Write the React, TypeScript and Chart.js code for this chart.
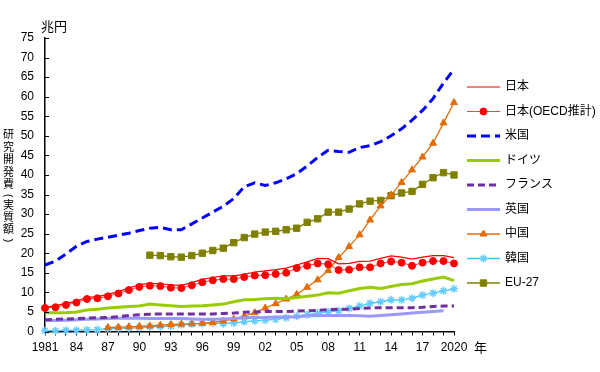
import React, { useEffect, useRef } from 'react';
import { Chart, registerables } from 'chart.js';
import { drawPoint } from 'chart.js/helpers';

Chart.register(...registerables);

const FONT = "'Liberation Sans', 'Noto Sans CJK JP', sans-serif";

const years = [
  '1981', '1982', '1983', '1984', '1985', '1986', '1987', '1988', '1989', '1990',
  '1991', '1992', '1993', '1994', '1995', '1996', '1997', '1998', '1999', '2000',
  '2001', '2002', '2003', '2004', '2005', '2006', '2007', '2008', '2009', '2010',
  '2011', '2012', '2013', '2014', '2015', '2016', '2017', '2018', '2019', '2020',
];

const tickLabels = ['1981', '84', '87', '90', '93', '96', '99', '02', '05', '08', '11', '14', '17', '2020'];

const japan = [
  6.1, 6.6, 7.2, 7.8, 8.7, 8.9, 9.5, 10.2, 11.1, 12.0,
  12.3, 12.2, 11.9, 11.8, 12.5, 13.3, 13.8, 14.2, 14.2, 14.6,
  15.2, 15.5, 15.8, 16.2, 17.0, 17.8, 18.7, 18.6, 17.3, 17.4,
  17.9, 18.0, 18.7, 19.3, 19.0, 18.5, 19.0, 19.4, 19.4, 18.9,
];

const japanOECD = [
  6.0, 6.2, 6.8, 7.4, 8.3, 8.5, 9.0, 9.7, 10.6, 11.4,
  11.7, 11.6, 11.2, 11.1, 11.8, 12.6, 13.1, 13.4, 13.4, 13.9,
  14.3, 14.4, 14.7, 15.0, 16.2, 16.8, 17.4, 17.2, 15.7, 15.8,
  16.4, 16.4, 17.4, 17.9, 17.6, 16.8, 17.6, 18.0, 18.0, 17.4,
];

const usa = [
  17.0, 18.0, 19.8, 21.8, 23.0, 23.6, 24.1, 24.6, 25.1, 25.8,
  26.4, 26.6, 26.0, 26.0, 27.5, 29.0, 30.5, 32.0, 34.0, 37.0,
  38.0, 37.3, 38.0, 39.0, 40.3, 42.3, 44.5, 46.3, 46.0, 45.8,
  47.0, 47.5, 48.5, 50.0, 51.8, 54.0, 56.5, 59.5, 63.5, 67.0,
];

const germany = [
  4.8, 4.8, 4.8, 5.0, 5.5, 5.7, 6.0, 6.2, 6.4, 6.5,
  7.0, 6.8, 6.6, 6.4, 6.5, 6.6, 6.8, 7.0, 7.6, 8.1,
  8.2, 8.4, 8.5, 8.4, 8.7, 9.0, 9.3, 9.9, 9.8, 10.4,
  11.0, 11.3, 11.0, 11.5, 12.0, 12.2, 12.9, 13.4, 13.9, 13.0,
];

const france = [
  3.0, 3.1, 3.2, 3.3, 3.4, 3.5, 3.6, 3.8, 4.1, 4.3,
  4.4, 4.5, 4.5, 4.5, 4.5, 4.5, 4.5, 4.6, 4.7, 4.9,
  5.0, 5.1, 5.1, 5.1, 5.2, 5.3, 5.4, 5.6, 5.7, 5.7,
  5.9, 6.0, 6.1, 6.1, 6.1, 6.1, 6.2, 6.4, 6.5, 6.5,
];

const uk = [
  2.8, 2.8, 2.9, 3.0, 3.1, 3.2, 3.3, 3.4, 3.4, 3.4,
  3.3, 3.3, 3.3, 3.3, 3.2, 3.1, 3.1, 3.2, 3.3, 3.5,
  3.6, 3.6, 3.7, 3.7, 3.8, 4.0, 4.1, 4.1, 4.1, 4.1,
  4.0, 3.9, 4.1, 4.3, 4.5, 4.7, 4.9, 5.1, 5.3, null,
];

const china = [
  null, null, null, null, null, null, 1.0, 1.1, 1.2, 1.3,
  1.4, 1.6, 1.8, 1.9, 2.0, 2.1, 2.3, 2.7, 3.2, 3.9,
  4.8, 6.0, 7.1, 8.3, 9.5, 11.3, 13.2, 15.6, 18.9, 21.7,
  24.7, 28.5, 32.1, 34.9, 38.1, 41.3, 44.6, 48.1, 53.3, 58.5,
];

const korea = [
  0.2, 0.2, 0.3, 0.3, 0.4, 0.5, 0.7, 0.8, 0.9, 1.0,
  1.2, 1.3, 1.4, 1.7, 1.9, 2.1, 2.2, 2.0, 2.2, 2.5,
  2.7, 2.9, 3.1, 3.5, 3.9, 4.3, 4.7, 5.0, 5.3, 5.9,
  6.5, 7.2, 7.6, 8.1, 8.1, 8.5, 9.3, 9.8, 10.4, 10.9,
];

const eu27 = [
  null, null, null, null, null, null, null, null, null, null,
  19.5, 19.4, 19.1, 19.0, 19.4, 20.0, 20.7, 21.3, 22.7, 24.0,
  24.9, 25.4, 25.6, 26.0, 26.4, 27.9, 28.8, 30.5, 30.5, 31.3,
  32.6, 33.3, 33.5, 34.7, 35.4, 35.8, 37.6, 39.3, 40.6, 40.0,
];

const seriesNames = ['日本', '日本(OECD推計)', '米国', 'ドイツ', 'フランス', '英国', '中国', '韓国', 'EU-27'];
const unitLabel = '兆円';
const yearSuffix = '年';
const yTitleChars = ['研', '究', '開', '発', '費', '(', '実', '質', '額', ')'];

const overlay = {
  id: 'overlay',
  afterDraw(chart: any) {
    const ctx = chart.ctx as CanvasRenderingContext2D;
    const area = chart.chartArea;
    const ys = chart.scales.y;
    const xs = chart.scales.x;
    ctx.save();
    // inward y ticks
    ctx.strokeStyle = '#000';
    ctx.lineWidth = 1;
    ys.ticks.forEach((t: any) => {
      const py = Math.round(ys.getPixelForValue(t.value)) + 0.5;
      ctx.beginPath();
      ctx.moveTo(area.left, py);
      ctx.lineTo(area.left + 4, py);
      ctx.stroke();
    });
    // unit label and year suffix
    ctx.fillStyle = '#000';
    ctx.font = `13px ${FONT}`;
    ctx.textAlign = 'left';
    ctx.textBaseline = 'middle';
    ctx.fillText(unitLabel, area.left - 4, area.top - 11);
    ctx.fillText(yearSuffix, xs.right + 20, area.bottom + 16.5);
    // vertical y title
    ctx.font = `11px ${FONT}`;
    ctx.textAlign = 'center';
    const positions = [135, 147.5, 160, 172.5, 185, 195.5, 205.5, 218, 230, 240.5];
    yTitleChars.forEach((c, i) => {
      const py = positions[i];
      if (c === '(' || c === ')') {
        ctx.save();
        ctx.translate(8.5, py);
        ctx.rotate(Math.PI / 2);
        ctx.fillText(c, 0, 0);
        ctx.restore();
      } else {
        ctx.fillText(c, 8.5, py);
      }
    });
    // legend
    const lx0 = 467;
    const lx1 = 500;
    chart.data.datasets.forEach((ds: any, i: number) => {
      const ry = 87 + i * 24.5;
      ctx.save();
      ctx.strokeStyle = ds.borderColor;
      ctx.lineWidth = ds.borderWidth;
      ctx.setLineDash(ds.borderDash || []);
      ctx.beginPath();
      ctx.moveTo(lx0, ry);
      ctx.lineTo(lx1, ry);
      ctx.stroke();
      ctx.restore();
      if (ds.pointRadius > 0) {
        ctx.save();
        ctx.fillStyle = ds.pointBackgroundColor;
        ctx.strokeStyle = ds.pointBorderColor;
        ctx.lineWidth = ds.pointBorderWidth;
        drawPoint(ctx, { pointStyle: ds.pointStyle, radius: ds.pointRadius, rotation: 0, borderWidth: ds.pointBorderWidth }, (lx0 + lx1) / 2, ry);
        ctx.restore();
      }
      ctx.fillStyle = '#000';
      ctx.font = `12px ${FONT}`;
      ctx.textAlign = 'left';
      ctx.textBaseline = 'middle';
      ctx.fillText(ds.label, 505, ry);
    });
    ctx.restore();
  },
};

function lineDs(label: string, data: (number | null)[], color: string, width: number, extra: any = {}) {
  return {
    label,
    data,
    borderColor: color,
    backgroundColor: color,
    borderWidth: width,
    pointRadius: 0,
    pointHoverRadius: 0,
    tension: 0,
    fill: false,
    clip: false as any,
    spanGaps: false,
    ...extra,
  };
}

export default function App() {
  const ref = useRef<HTMLCanvasElement>(null);
  useEffect(() => {
    const datasets = [
      lineDs(seriesNames[0], japan, '#ff0000', 1.2),
      lineDs(seriesNames[1], japanOECD, '#ff4040', 1, {
        pointRadius: 3.5, pointStyle: 'circle', pointBackgroundColor: '#ff0000', pointBorderColor: '#ff0000', pointBorderWidth: 1,
      }),
      lineDs(seriesNames[2], usa, '#0000ff', 3, { borderDash: [9, 5] }),
      lineDs(seriesNames[3], germany, '#99cc00', 3),
      lineDs(seriesNames[4], france, '#7030a0', 3, { borderDash: [7, 4] }),
      lineDs(seriesNames[5], uk, '#9999ff', 3),
      lineDs(seriesNames[6], china, '#e36c09', 1.3, {
        pointRadius: 4, pointStyle: 'triangle', pointBackgroundColor: '#e36c09', pointBorderColor: '#e36c09', pointBorderWidth: 1,
      }),
      lineDs(seriesNames[7], korea, '#33ccff', 1.3, {
        pointRadius: 4, pointStyle: 'star', pointBackgroundColor: '#66ccff', pointBorderColor: '#66ccff', pointBorderWidth: 1.5,
      }),
      lineDs(seriesNames[8], eu27, '#808000', 1.3, {
        pointRadius: 4.5, pointStyle: 'rect', pointBackgroundColor: '#808000', pointBorderColor: '#808000', pointBorderWidth: 1,
      }),
    ];
    const chart = new Chart(ref.current as HTMLCanvasElement, {
      type: 'line',
      data: { labels: years, datasets: datasets as any },
      options: {
        animation: false,
        responsive: false,
        devicePixelRatio: 1,
        events: [],
        layout: { padding: { top: 38, right: 146, left: 0, bottom: 0 } },
        plugins: { legend: { display: false }, tooltip: { enabled: false }, title: { display: false } },
        scales: {
          x: {
            type: 'category',
            offset: false,
            grid: { display: true, drawOnChartArea: false, drawTicks: true, tickLength: 4, color: '#000', lineWidth: 1 },
            border: { display: true, color: '#000', width: 1.5 },
            ticks: {
              autoSkip: false,
              maxRotation: 0,
              minRotation: 0,
              padding: 5,
              color: '#000',
              font: { family: FONT, size: 12 },
              callback: (_v: any, i: number) => (i % 3 === 0 ? tickLabels[i / 3] : ''),
            },
            afterFit: (s: any) => { s.height = 40.5; },
          },
          y: {
            min: 0,
            max: 75,
            grid: { display: false, drawTicks: false },
            border: { display: true, color: '#000', width: 1.5 },
            ticks: { stepSize: 5, padding: 11, color: '#000', font: { family: FONT, size: 12 } },
            afterFit: (s: any) => { s.width = 45; },
          },
        },
      },
      plugins: [overlay],
    });
    return () => chart.destroy();
  }, []);
  return (
    <div style={{ position: 'fixed', left: 0, top: 0, width: 600, height: 372, background: '#fff' }}>
      <canvas ref={ref} width={600} height={372} style={{ display: 'block' }} />
    </div>
  );
}
